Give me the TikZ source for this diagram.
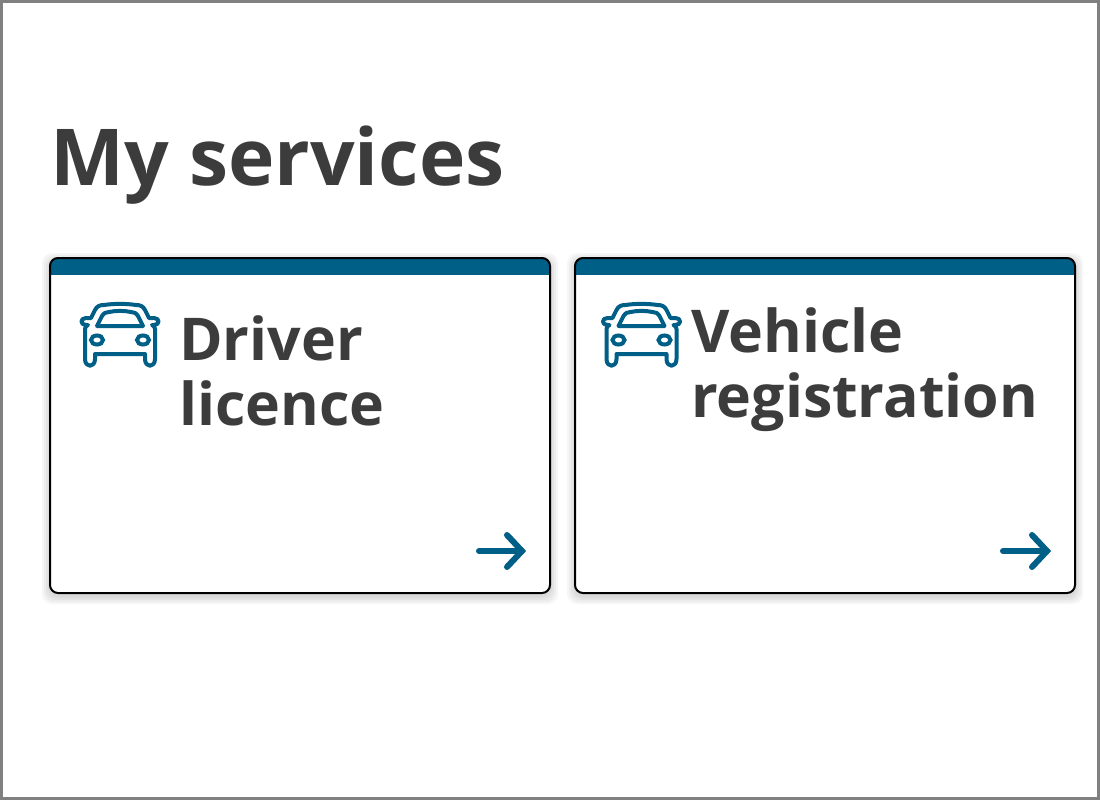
\documentclass[tikz,border=0pt]{standalone}
\usepackage{fontspec}
\setmainfont{Open Sans}
\usepackage{tikz}
\usetikzlibrary{positioning,calc}
\definecolor{tealblue}{HTML}{005F87}
\definecolor{inktext}{HTML}{3C3C3C}
\tikzset{
    heading/.style={anchor=base west,inner sep=0pt,text=inktext,font=\bfseries\fontsize{78.5}{86}\selectfont},
    cardtitle/.style={anchor=base west,inner sep=0pt,text=inktext,align=left,font=\bfseries\fontsize{59}{66}\selectfont},
    cardline/.style={draw=black,line width=2pt,rounded corners=8pt},
    goarrow/.style={draw=tealblue,line width=6pt,line cap=round,line join=miter},
    caricon/.pic={
        \draw[draw=tealblue,line width=4pt,line join=round]
            (-35,27) .. controls (-35,25) and (-34,24) .. (-32,23)
            -- (-34,23) .. controls (-40,23) and (-40,16) .. (-34,16)
            -- (-29,16) -- (-25,8)
            .. controls (-23,4) and (-20,3) .. (-16,3)
            .. controls (-6,1.5) and (6,1.5) .. (16,3)
            .. controls (20,3) and (23,4) .. (25,8)
            -- (29,16) -- (34,16)
            .. controls (40,16) and (40,23) .. (34,23)
            -- (32,23) .. controls (34,24) and (35,25) .. (35,27)
            -- (35,57) .. controls (35,66) and (25,66) .. (25,57)
            -- (25,52) -- (-25,52) -- (-25,57)
            .. controls (-25,66) and (-35,66) .. (-35,57) -- cycle;
        \draw[draw=tealblue,line width=4pt,line join=round]
            (-23,24) -- (-18,14) .. controls (-16,11) and (-14,10) .. (-11,10)
            .. controls (-4,8.5) and (4,8.5) .. (11,10)
            .. controls (14,10) and (16,11) .. (18,14)
            -- (23,24) -- cycle;
        \draw[draw=tealblue,line width=4pt] (-23,38) ellipse [x radius=6,y radius=4.5];
        \draw[draw=tealblue,line width=4pt] (23,38) ellipse [x radius=6,y radius=4.5];
    }
}
\newcommand{\servicecard}[2]{%
    % soft shadow
    \foreach \grow in {8,6,4,2}
        \fill[black,opacity=0.035,rounded corners=10pt]
            ($(#1-\grow,258-\grow+3)$) rectangle ($(#2+\grow,593+\grow+3)$);
    \fill[white,rounded corners=8pt] (#1,258) rectangle (#2,593);
    \begin{scope}
        \clip[rounded corners=8pt] (#1,258) rectangle (#2,593);
        \fill[tealblue] (#1,258) rectangle (#2,275);
    \end{scope}
    \draw[cardline] (#1,258) rectangle (#2,593);
}
\begin{document}
\begin{tikzpicture}[x=1pt,y=-1pt]
    \useasboundingbox (0,0) rectangle (1100,800);
    \fill[white] (0,0) rectangle (1100,800);
    \draw[draw=gray,line width=3pt] (1.5,1.5) rectangle (1098.5,798.5);

    \node[heading] (title) at (50,185) {My services};

    \servicecard{50}{550}
    \servicecard{575}{1075}

    % first card
    \pic at (120,302) {caricon};
    \node[cardtitle] (driver) at (179,360) {Driver};
    \node[cardtitle] (licence) at (179,425) {licence};
    \coordinate (a1) at (479,551);
    \coordinate (a2) at (522,551);
    \coordinate (a3) at (507,535);
    \coordinate (a4) at (507,567);
    \draw[goarrow] (a1) -- (a2);
    \draw[goarrow] (a3) -- (a2) -- (a4);

    % second card
    \pic at (641.5,302) {caricon};
    \node[cardtitle] (vehicle) at (691,352) {Vehicle};
    \node[cardtitle] (registration) at (691,417) {registration};
    \coordinate (b1) at (1003,551);
    \coordinate (b2) at (1047,551);
    \coordinate (b3) at (1032,535);
    \coordinate (b4) at (1032,567);
    \draw[goarrow] (b1) -- (b2);
    \draw[goarrow] (b3) -- (b2) -- (b4);
\end{tikzpicture}
\end{document}
